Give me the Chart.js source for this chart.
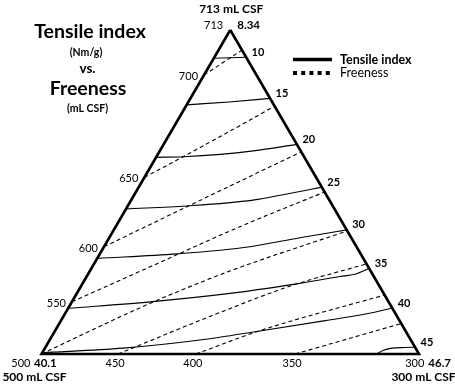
<!DOCTYPE html>
<html>
<head>
<meta charset="utf-8">
<script src="https://cdn.jsdelivr.net/npm/chart.js@4.4.0/dist/chart.umd.min.js"></script>
<style>
  html, body { margin: 0; padding: 0; background: #fff; }
  #wrap { width: 455px; height: 385px; position: relative; }
</style>
</head>
<body>
<div id="wrap"><canvas id="ternary"></canvas></div>
<script>
// Corner pulps: top, bottom-left, bottom-right
const cornerFreeness = [713, 500, 300];
const cornerTensile = [8.34, 40.1, 46.7];

// Freeness ticks (mL CSF) on the left and bottom edges
const leftTicks = [700, 650, 600, 550];
const bottomTicks = [450, 400, 350];

// Contour levels
const tensileLevels = [10, 15, 20, 25, 30, 35, 40, 45];
const freenessLevels = [700, 650, 600, 550, 500, 450, 400, 350];

// Contour points as [% of 713 pulp, % of 300 pulp], the rest is 500 pulp
const tensileContours = [
  [[91.3, 0], [91.6, 8.4]],
  [[76.9, 0], [77.8, 10.8], [78.9, 21.1]],
  [[60.7, 0], [60.9, 7.1], [61.6, 16.5], [62.7, 24.8], [64.7, 35.3]],
  [[44.8, 0], [45.7, 15.6], [47.5, 32.3], [49.4, 40.3], [51.5, 48.5]],
  [[29.5, 0], [30.9, 20.4], [33.1, 38.7], [35.9, 50.5], [38.3, 61.7]],
  [[14.1, 0], [16.1, 20.7], [18.7, 40.6], [21.5, 55.9], [23.9, 67.1], [24.6, 70.7], [26.4, 73.6]],
  [[0.4, 0], [1.8, 20.7], [4.3, 39.8], [7.1, 54.3], [10.3, 70.0], [12.8, 81.5], [14.2, 85.8]],
  [[0, 88.8], [1.1, 89.9], [1.8, 92.0], [2.0, 95.3], [2.1, 97.9]]
];

const freenessContours = [
  [[86.1, 0], [93.8, 6.2]],
  [[54.5, 0], [60.9, 7.1], [72.2, 19.1], [76.5, 23.5]],
  [[33.1, 0], [47.8, 18.8], [62.4, 37.6]],
  [[16.1, 0], [26.9, 15.3], [39.3, 32.9], [50.0, 50.0]],
  [[0, 0], [15.6, 20.9], [25.6, 37.1], [38.0, 62.0]],
  [[0, 20.3], [12.0, 39.5], [21.3, 56.1], [27.8, 72.2]],
  [[0, 40.9], [7.4, 54.7], [18.2, 81.8]],
  [[0, 67.2], [9.4, 90.6]]
];

const triangle = [[100, 0], [0, 0], [0, 100], [100, 0]];

// composition -> plot coordinates (triangle with apex at x = 0.5)
function toPoint(p) {
  return { x: (p[1] + p[0] / 2) / 100, y: p[0] / 100 };
}

const FONT = 'Lato';
const datasets = [];

datasets.push({
  data: triangle.map(toPoint),
  borderColor: '#000',
  borderWidth: 2.6,
  clip: false
});

tensileContours.forEach((c, i) => {
  datasets.push({
    label: 'Tensile ' + tensileLevels[i],
    data: c.map(toPoint),
    borderColor: '#000',
    borderWidth: 1.1,
    cubicInterpolationMode: 'monotone',
    clip: false
  });
});

freenessContours.forEach((c, i) => {
  datasets.push({
    label: 'Freeness ' + freenessLevels[i],
    data: c.map(toPoint),
    borderColor: '#000',
    borderWidth: 1.1,
    borderDash: [4, 3],
    cubicInterpolationMode: 'monotone',
    clip: false
  });
});

function text(ctx, str, x, y, size, bold, align) {
  ctx.font = (bold ? 'bold ' : '') + size + 'px ' + FONT;
  ctx.textAlign = align || 'center';
  ctx.textBaseline = 'middle';
  ctx.fillStyle = '#000';
  ctx.fillText(str, x, y);
}

const labelPlugin = {
  id: 'ternaryLabels',
  afterDraw(chart) {
    const ctx = chart.ctx;
    const sx = chart.scales.x, sy = chart.scales.y;
    const pos = p => {
      const q = toPoint(p);
      return { x: sx.getPixelForValue(q.x), y: sy.getPixelForValue(q.y) };
    };
    ctx.save();

    // corners
    const top = pos(triangle[0]), left = pos(triangle[1]), right = pos(triangle[2]);
    text(ctx, cornerFreeness[0] + ' mL CSF', top.x + 1, top.y - 20.5, 12, true);
    text(ctx, String(cornerFreeness[0]), top.x - 7, top.y - 5, 11, false, 'right');
    text(ctx, String(cornerTensile[0]), top.x + 7, top.y - 5, 11.5, true, 'left');
    text(ctx, String(cornerFreeness[1]), left.x - 11, left.y + 9, 11, false, 'right');
    text(ctx, String(cornerTensile[1]), left.x - 7.5, left.y + 9, 11.5, true, 'left');
    text(ctx, cornerFreeness[1] + ' mL CSF', left.x - 7, left.y + 23, 12, true);
    text(ctx, String(cornerFreeness[2]), right.x + 5.3, right.y + 9, 11, false, 'right');
    text(ctx, String(cornerTensile[2]), right.x + 9.3, right.y + 9, 11.5, true, 'left');
    text(ctx, cornerFreeness[2] + ' mL CSF', right.x + 4.5, right.y + 23, 12, true);

    // freeness ticks where the dashed contours start
    leftTicks.forEach(v => {
      const p = pos(freenessContours[freenessLevels.indexOf(v)][0]);
      text(ctx, String(v), p.x - 6, p.y + 1.5, 11, false, 'right');
    });
    bottomTicks.forEach(v => {
      const p = pos(freenessContours[freenessLevels.indexOf(v)][0]);
      text(ctx, String(v), p.x - 3, p.y + 9, 11, false, 'center');
    });

    // tensile labels where the solid contours end
    tensileLevels.forEach((v, i) => {
      const c = tensileContours[i];
      const p = pos(c[c.length - 1]);
      text(ctx, String(v), p.x + 5.5, p.y - 5, 11, true, 'left');
    });

    // title
    text(ctx, 'Tensile index', 90, 32, 19.5, true);
    text(ctx, '(Nm/g)', 86, 53, 10.5, true);
    text(ctx, 'vs.', 87.5, 69, 13.5, true);
    text(ctx, 'Freeness', 88, 88.5, 19.5, true);
    text(ctx, '(mL CSF)', 87.5, 108.5, 10.5, true);

    // legend
    ctx.strokeStyle = '#000';
    ctx.lineWidth = 3.5;
    ctx.beginPath();
    ctx.moveTo(293, 59.5);
    ctx.lineTo(332, 59.5);
    ctx.stroke();
    ctx.fillStyle = '#000';
    for (let i = 0; i < 5; i++) {
      ctx.fillRect(293 + i * 8.2, 71, 4, 4);
    }
    text(ctx, 'Tensile index', 340, 59.5, 12.5, true, 'left');
    text(ctx, 'Freeness', 340, 73, 12.5, false, 'left');

    ctx.restore();
  }
};

new Chart(document.getElementById('ternary'), {
  type: 'scatter',
  data: { datasets: datasets },
  options: {
    responsive: true,
    maintainAspectRatio: false,
    animation: false,
    showLine: true,
    elements: { point: { radius: 0 } },
    layout: { padding: { left: 41.5, right: 36, top: 30, bottom: 31 } },
    scales: {
      x: { type: 'linear', min: 0, max: 1, display: false },
      y: { type: 'linear', min: 0, max: 1, display: false }
    },
    plugins: {
      legend: { display: false },
      tooltip: { enabled: false }
    }
  },
  plugins: [labelPlugin]
});
</script>
</body>
</html>
